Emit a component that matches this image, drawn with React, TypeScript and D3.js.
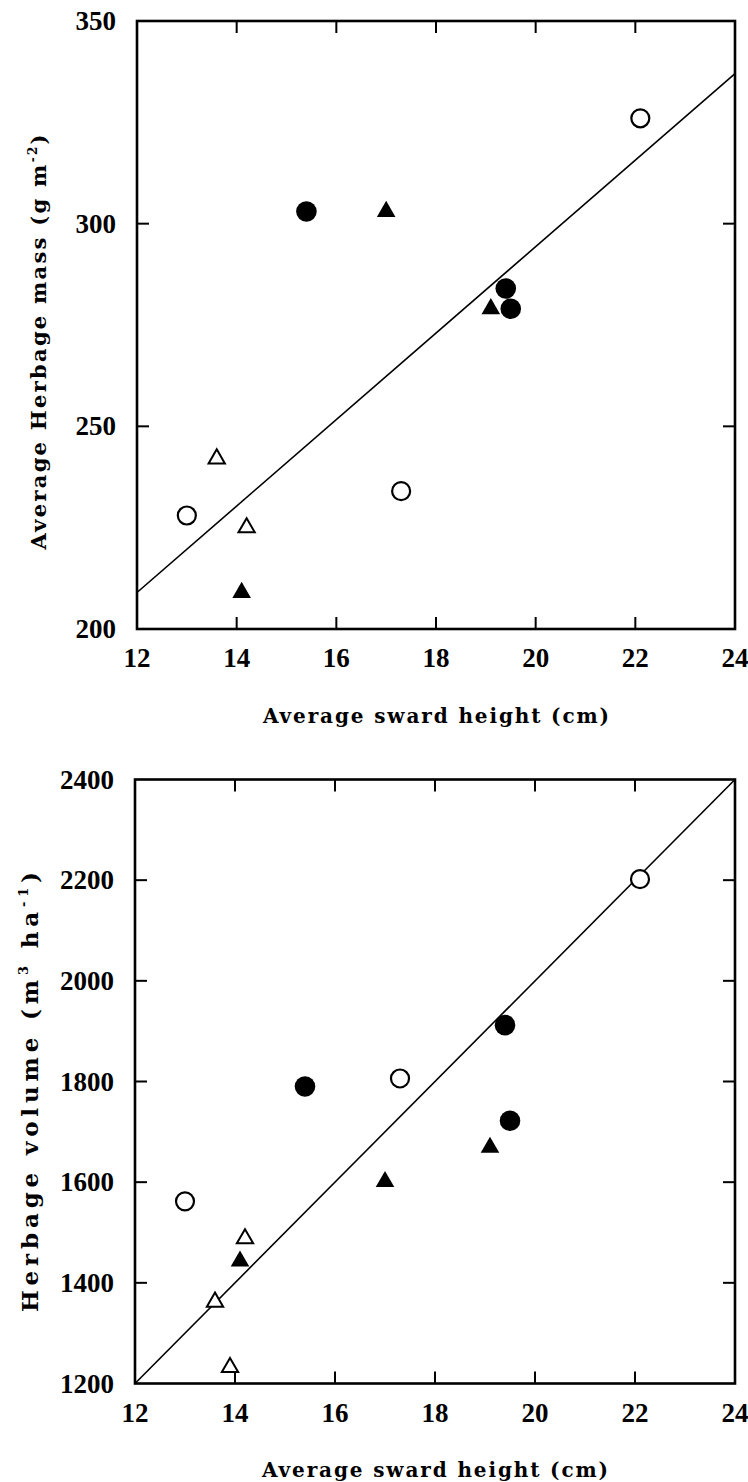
import React from "react";
import * as d3 from "d3";

// ---- data ----
const xTicks = [12, 14, 16, 18, 20, 22, 24];
const massTicks = [200, 250, 300, 350];
const volTicks = [1200, 1400, 1600, 1800, 2000, 2200, 2400];

// open circles
const openCircleX = [13.0, 17.3, 22.1];
const openCircleMass = [228, 234, 326];
const openCircleVol = [1562, 1806, 2202];
// filled circles
const filledCircleX = [15.4, 19.4, 19.5];
const filledCircleMass = [303, 284, 279];
const filledCircleVol = [1790, 1912, 1722];
// filled triangles
const filledTriX = [14.1, 17.0, 19.1];
const filledTriMass = [209, 303, 279];
const filledTriVol = [1443, 1601, 1669];
// open triangles (third one not shown in the mass panel)
const openTriX = [13.6, 14.2, 13.9];
const openTriMass: (number | null)[] = [242, 225, null];
const openTriVol = [1362, 1488, 1232];

// regression lines
const lineX = [12, 24];
const massLineY = [209, 337];
const volLineY = [1200, 2400];

type Pt = { x: number; y: number };
const zip = (xs: number[], ys: (number | null)[]): Pt[] =>
  xs.map((x, i) => ({ x, y: ys[i] as number })).filter((p) => p.y != null);

const FONT = "'Liberation Serif', 'Times New Roman', serif";
const TFONT = "'DejaVu Serif', 'Liberation Serif', serif";

type PanelProps = {
  x0: number; x1: number; yTop: number; yBot: number;
  yDomain: [number, number]; yTicks: number[];
  data: { oc: Pt[]; fc: Pt[]; ft: Pt[]; ot: Pt[] };
  line: Pt[];
  xTitleY: number;
  yTitle: React.ReactNode; yTitleX: number; yTitleLen: number; yTitleCY: number; yTitleSize: number;
};

function Panel(p: PanelProps) {
  const x = d3.scaleLinear().domain([12, 24]).range([p.x0, p.x1]);
  const y = d3.scaleLinear().domain(p.yDomain).range([p.yBot, p.yTop]);
  const tri = d3.symbol().type(d3.symbolTriangle).size(150)();
  const triOpen = d3.symbol().type(d3.symbolTriangle).size(115)();
  const lineGen = d3.line<Pt>().x((d) => x(d.x)).y((d) => y(d.y));
  const tl = 12;
  return (
    <g>
      {/* regression line */}
      <path d={lineGen(p.line) || ""} fill="none" stroke="#000" strokeWidth={1.6} />
      {/* frame */}
      <rect x={p.x0} y={p.yTop} width={p.x1 - p.x0} height={p.yBot - p.yTop}
        fill="none" stroke="#000" strokeWidth={2.6} />
      {/* x ticks (bottom & top, inward) */}
      {xTicks.slice(1, -1).map((t) => (
        <g key={"xt" + t}>
          <line x1={x(t)} x2={x(t)} y1={p.yBot} y2={p.yBot - tl} stroke="#000" strokeWidth={2} />
          <line x1={x(t)} x2={x(t)} y1={p.yTop} y2={p.yTop + tl} stroke="#000" strokeWidth={2} />
        </g>
      ))}
      {p.yTicks.slice(1, -1).map((t) => (
        <g key={"yt" + t}>
          <line x1={p.x0} x2={p.x0 + tl} y1={y(t)} y2={y(t)} stroke="#000" strokeWidth={2} />
          <line x1={p.x1} x2={p.x1 - tl} y1={y(t)} y2={y(t)} stroke="#000" strokeWidth={2} />
        </g>
      ))}
      {/* tick labels */}
      {xTicks.map((t) => (
        <text key={"xl" + t} x={x(t)} y={p.yBot + 38} textAnchor="middle"
          fontFamily={FONT} fontWeight="bold" fontSize={27}>{t}</text>
      ))}
      {p.yTicks.map((t) => (
        <text key={"yl" + t} x={p.x0 - 21} y={y(t) + 9} textAnchor="end"
          fontFamily={FONT} fontWeight="bold" fontSize={27}>{t}</text>
      ))}
      {/* axis titles */}
      <text x={(p.x0 + p.x1) / 2} y={p.xTitleY} textAnchor="middle" fontFamily={TFONT}
        fontWeight="bold" fontSize={20} textLength={346} lengthAdjust="spacing">
        Average sward height (cm)
      </text>
      <text transform={`translate(${p.yTitleX},${p.yTitleCY}) rotate(-90)`} textAnchor="middle"
        fontFamily={TFONT} fontWeight="bold" fontSize={p.yTitleSize}
        textLength={p.yTitleLen} lengthAdjust="spacing">
        {p.yTitle}
      </text>
      {/* markers */}
      {p.data.oc.map((d, i) => (
        <circle key={"oc" + i} cx={x(d.x)} cy={y(d.y)} r={9} fill="#fff" stroke="#000" strokeWidth={2.2} />
      ))}
      {p.data.fc.map((d, i) => (
        <circle key={"fc" + i} cx={x(d.x)} cy={y(d.y)} r={10.3} fill="#000" />
      ))}
      {p.data.ft.map((d, i) => (
        <path key={"ft" + i} d={tri || ""} transform={`translate(${x(d.x)},${y(d.y)})`} fill="#000" />
      ))}
      {p.data.ot.map((d, i) => (
        <path key={"ot" + i} d={triOpen || ""} transform={`translate(${x(d.x)},${y(d.y)})`}
          fill="#fff" stroke="#000" strokeWidth={2} />
      ))}
    </g>
  );
}

export default function App() {
  const lineMass = zip(lineX, massLineY);
  const lineVol = zip(lineX, volLineY);
  return (
    <svg width={748} height={1482} viewBox="0 0 748 1482"
      style={{ position: "absolute", left: 0, top: 0, background: "#fff" }}>
      <rect x={0} y={0} width={748} height={1482} fill="#fff" />
      <Panel
        x0={137} x1={735} yTop={21} yBot={629}
        yDomain={[200, 350]} yTicks={massTicks}
        data={{
          oc: zip(openCircleX, openCircleMass),
          fc: zip(filledCircleX, filledCircleMass),
          ft: zip(filledTriX, filledTriMass),
          ot: zip(openTriX, openTriMass),
        }}
        line={lineMass}
        xTitleY={723}
        yTitle={<>
          <tspan>Average Herbage mass (g m</tspan>
          <tspan fontSize={12} dy={-9}>-2</tspan>
          <tspan dy={9}>)</tspan>
        </>}
        yTitleX={46} yTitleLen={415} yTitleCY={342} yTitleSize={21}
      />
      <Panel
        x0={135} x1={735} yTop={779.5} yBot={1383.5}
        yDomain={[1200, 2400]} yTicks={volTicks}
        data={{
          oc: zip(openCircleX, openCircleVol),
          fc: zip(filledCircleX, filledCircleVol),
          ft: zip(filledTriX, filledTriVol),
          ot: zip(openTriX, openTriVol),
        }}
        line={lineVol}
        xTitleY={1477}
        yTitle={<>
          <tspan>Herbage volume (m</tspan>
          <tspan fontSize={13} dy={-10}>3</tspan>
          <tspan dy={10}> ha</tspan>
          <tspan fontSize={13} dy={-10}>-1</tspan>
          <tspan dy={10}>)</tspan>
        </>}
        yTitleX={38} yTitleLen={440} yTitleCY={1092} yTitleSize={23}
      />
    </svg>
  );
}
